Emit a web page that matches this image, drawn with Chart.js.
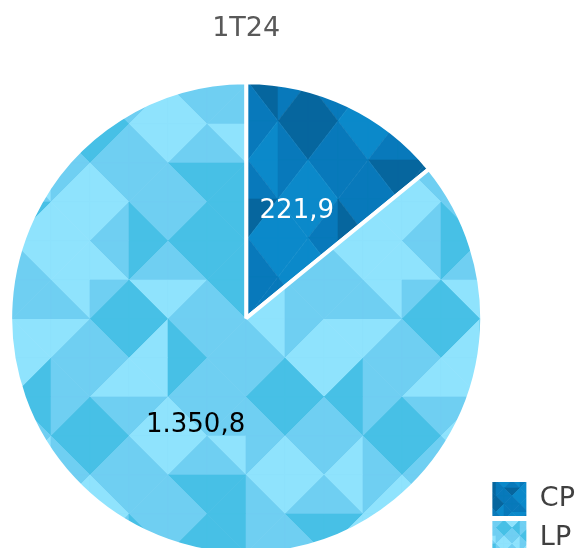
<!DOCTYPE html>
<html>
<head>
<meta charset="utf-8">
<script src="https://cdn.jsdelivr.net/npm/chart.js@4.4.1/dist/chart.umd.min.js"></script>
<style>
  html, body { margin: 0; padding: 0; overflow: hidden; background: #fff; }
</style>
</head>
<body>
<canvas id="pie-chart" width="585" height="560"></canvas>
<script>
const chartTitle = '1T24';
const categories = ['CP', 'LP'];
const values = [221.9, 1350.8];
const labelColors = ['#ffffff', '#000000'];

// triangle quilt colours (light, mid, dark)
const cpShades = { a: '#0b89ca', b: '#0879bb', c: '#06669e' };
const lpShades = { a: '#8fe3fd', b: '#6fcff2', c: '#47c0e6' };

// diamonds round every odd grid vertex, 4 letters each: UL UR LL LR
const quilt = [
  ['bbaa', 'cccc', 'bbbb', 'abab'],
  ['aaaa', 'bbbb', 'acac', 'bbbb'],
  ['cbcb', 'aabb', 'bbbb', 'cccc'],
  ['bbbb', 'cccc', 'aaaa', 'bbab'],
  ['abab', 'bbbb', 'bbcc', 'aaaa'],
  ['bbcc', 'aaaa', 'bbbb', 'cbcb'],
  ['aaaa', 'bcbc', 'cccc', 'bbbb'],
  ['bbbb', 'aaab', 'bbaa', 'cccc']
];

function quiltShade(R, C, q) {
  const n = quilt.length;
  R = (R + n) % n;
  C = (C + n) % n;
  return quilt[R][Math.floor(C / 2)][q];
}

function makePattern(shades, cw, ch, ox, oy) {
  const n = quilt.length;
  const tile = document.createElement('canvas');
  tile.width = n * cw;
  tile.height = n * ch;
  const t = tile.getContext('2d');
  t.lineWidth = 0.6;
  const tri = (pts, key) => {
    const col = shades[key];
    t.beginPath();
    t.moveTo(pts[0], pts[1]);
    t.lineTo(pts[2], pts[3]);
    t.lineTo(pts[4], pts[5]);
    t.closePath();
    t.fillStyle = col;
    t.strokeStyle = col;
    t.fill();
    t.stroke();
  };
  for (let r = 0; r < n; r++) {
    for (let c = 0; c < n; c++) {
      const x0 = c * cw, y0 = r * ch, x1 = x0 + cw, y1 = y0 + ch;
      if ((r + c) % 2 === 0) {
        tri([x0, y0, x1, y0, x1, y1], quiltShade(r, c + 1, 2));
        tri([x0, y0, x0, y1, x1, y1], quiltShade(r + 1, c, 1));
      } else {
        tri([x0, y0, x1, y0, x0, y1], quiltShade(r, c, 3));
        tri([x1, y0, x1, y1, x0, y1], quiltShade(r + 1, c + 1, 0));
      }
    }
  }
  const p = document.createElement('canvas').getContext('2d').createPattern(tile, 'repeat');
  p.setTransform(new DOMMatrix().translate(ox, oy));
  return p;
}

const cpPattern = makePattern(cpShades, 30, 39, 8, 4);
const lpPattern = makePattern(lpShades, 39, 39, 12, 7);
const legendPatterns = [makePattern(cpShades, 8, 8, 0, 0), makePattern(lpShades, 8, 8, 0, 0)];

function formatNumber(v) {
  const parts = v.toFixed(1).split('.');
  return parts[0].replace(/\B(?=(\d{3})+(?!\d))/g, '.') + ',' + parts[1];
}

const sliceLabels = {
  id: 'sliceLabels',
  afterDatasetsDraw(chart) {
    const ctx = chart.ctx;
    const meta = chart.getDatasetMeta(0);
    ctx.save();
    ctx.font = '26px "DejaVu Sans"';
    ctx.textAlign = 'center';
    ctx.textBaseline = 'middle';
    meta.data.forEach((arc, i) => {
      const p = arc.tooltipPosition();
      ctx.fillStyle = labelColors[i];
      ctx.fillText(formatNumber(values[i]), p.x, p.y);
    });
    ctx.restore();
  }
};

Chart.defaults.font.family = '"DejaVu Sans"';

new Chart(document.getElementById('pie-chart'), {
  type: 'pie',
  data: {
    labels: categories,
    datasets: [{
      data: values,
      backgroundColor: [cpPattern, lpPattern],
      borderColor: '#ffffff',
      borderWidth: 4
    }]
  },
  options: {
    responsive: false,
    animation: false,
    radius: 236,
    layout: { padding: { left: 5 } },
    plugins: {
      title: {
        display: true,
        text: chartTitle,
        fullSize: false,
        color: '#595959',
        font: { size: 27, weight: 'normal' },
        padding: { top: 13, bottom: 31 }
      },
      legend: {
        position: 'right',
        align: 'end',
        labels: {
          boxWidth: 34,
          boxHeight: 34,
          padding: 5,
          color: '#404040',
          font: { size: 27 },
          generateLabels(chart) {
            const items = Chart.overrides.doughnut.plugins.legend.labels.generateLabels(chart);
            items.forEach((item, i) => {
              item.fillStyle = legendPatterns[i];
              item.lineWidth = 0;
              item.strokeStyle = 'rgba(0,0,0,0)';
            });
            return items;
          }
        }
      },
      tooltip: { enabled: false }
    }
  },
  plugins: [sliceLabels]
});
</script>
</body>
</html>
